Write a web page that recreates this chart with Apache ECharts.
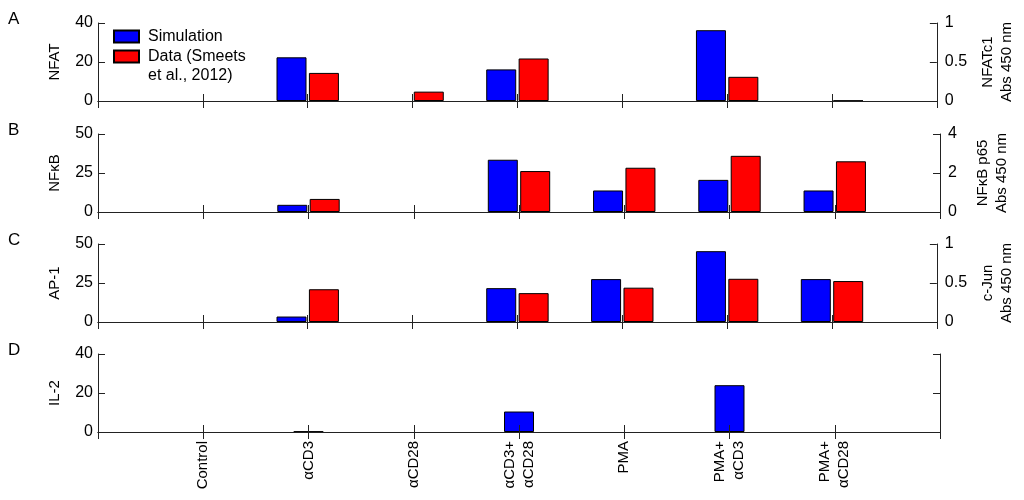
<!DOCTYPE html>
<html>
<head>
<meta charset="utf-8">
<script src="https://cdn.jsdelivr.net/npm/echarts@6/dist/echarts.min.js"></script>
<style>html,body{margin:0;padding:0;background:#fff}#c{width:1024px;height:500px}</style>
</head>
<body>
<div id="c"></div>
<script>
// ---- data ----
var categories = ['Control', 'αCD3', 'αCD28', 'αCD3+\nαCD28', 'PMA', 'PMA+\nαCD3', 'PMA+\nαCD28'];
var simName = 'Simulation';
var dataName = 'Data (Smeets et al., 2012)';
var dataLegendLabel = '\nData (Smeets\net al., 2012)';

var panelLetters = ['A', 'B', 'C', 'D'];
var leftNames = ['NFAT', 'NFκB', 'AP-1', 'IL-2'];
var rightNames = ['NFATc1\nAbs 450 nm', 'NFκB p65\nAbs 450 nm', 'c-Jun\nAbs 450 nm', null];

var leftMax = [40, 50, 50, 40];
var leftInterval = [20, 25, 25, 20];
var rightMax = [1, 4, 1, null];
var rightInterval = [0.5, 2, 0.5, null];

// simulation (left axis)
var simNFAT = [0, 22.4, 0, 16.2, 0, 36.3, 0];
var simNFkB = [0, 4.6, 0, 33.5, 13.8, 20.6, 13.8];
var simAP1  = [0, 3.5, 0, 21.7, 27.5, 45.4, 27.5];
var simIL2  = [0, 0.3, 0, 10.5, 0, 24.0, 0];
// measured data (right axis)
var dataNFATc1 = [0, 0.36, 0.12, 0.545, 0, 0.31, 0.005];
var dataP65    = [0, 0.67, 0, 2.1, 2.27, 2.88, 2.6];
var dataCJun   = [0, 0.42, 0, 0.37, 0.44, 0.554, 0.525];

var simSets = [simNFAT, simNFkB, simAP1, simIL2];
var dataSets = [dataNFATc1, dataP65, dataCJun, null];

// ---- build ----
var FONT = '"Liberation Sans", Arial, sans-serif';
var padCats = [''].concat(categories).concat(['']);
// zero-height bars are invisible in the reference: map 0 to empty
function pad(arr) {
  return ['-'].concat(arr.map(function (v) { return v === 0 ? '-' : v; })).concat(['-']);
}

var tops = [23, 134, 244, 354];
var H = 78;
var grids = [], xAxes = [], yAxes = [], series = [], graphics = [];
var lineStyle = { color: '#222', width: 1 };

for (var i = 0; i < 4; i++) {
  grids.push({ left: 98, right: 84, top: tops[i], height: H });
  xAxes.push({
    type: 'category', gridIndex: i, data: padCats, boundaryGap: false, position: 'bottom', z: 5,
    axisLine: { show: true, lineStyle: lineStyle },
    axisTick: { show: true, inside: true, length: 7, interval: 0, lineStyle: lineStyle },
    axisLabel: { show: i === 3, interval: 0, rotate: 90, margin: 9, fontSize: 15, fontFamily: FONT, color: '#000', lineHeight: 19 },
    splitLine: { show: false }
  });
  xAxes.push({
    type: 'category', gridIndex: i, data: padCats, boundaryGap: false, position: 'top', z: 5,
    axisLine: { show: true, lineStyle: lineStyle },
    axisTick: { show: true, inside: true, length: 7, interval: 0, lineStyle: lineStyle },
    axisLabel: { show: false },
    splitLine: { show: false }
  });
  yAxes.push({
    type: 'value', gridIndex: i, position: 'left', min: 0, max: leftMax[i], interval: leftInterval[i], z: 5,
    name: leftNames[i], nameLocation: 'middle', nameRotate: 90, nameGap: 36,
    nameTextStyle: { fontSize: 15, fontFamily: FONT, color: '#000' },
    axisLine: { show: true, lineStyle: lineStyle },
    axisTick: { show: true, inside: true, length: 7, lineStyle: lineStyle },
    axisLabel: { fontSize: 16, fontFamily: FONT, color: '#000', margin: 5 },
    splitLine: { show: false }
  });
  if (rightMax[i] !== null) {
    yAxes.push({
      type: 'value', gridIndex: i, position: 'right', min: 0, max: rightMax[i], interval: rightInterval[i], z: 5,
      name: rightNames[i], nameLocation: 'middle', nameRotate: 90, nameGap: 33,
      nameTextStyle: { fontSize: 15, fontFamily: FONT, color: '#000', lineHeight: 19, align: 'center' },
      axisLine: { show: true, lineStyle: lineStyle },
      axisTick: { show: true, inside: true, length: 7, lineStyle: lineStyle },
      axisLabel: { fontSize: 16, fontFamily: FONT, color: '#000', margin: 8 },
      splitLine: { show: false }
    });
  } else {
    yAxes.push({
      type: 'value', gridIndex: i, position: 'right', min: 0, max: leftMax[i], interval: leftInterval[i], z: 5,
      axisLine: { show: true, lineStyle: lineStyle },
      axisTick: { show: true, inside: true, length: 7, lineStyle: lineStyle },
      axisLabel: { show: false },
      splitLine: { show: false }
    });
  }
  series.push({
    name: simName, type: 'bar', xAxisIndex: 2 * i, yAxisIndex: 2 * i,
    data: pad(simSets[i]), barWidth: 30, barGap: '8%',
    itemStyle: { color: '#0000ff', borderColor: '#000', borderWidth: 1 }
  });
  if (dataSets[i]) {
    series.push({
      name: dataName, type: 'bar', xAxisIndex: 2 * i, yAxisIndex: 2 * i + 1,
      data: pad(dataSets[i]), barWidth: 30, barGap: '8%',
      itemStyle: { color: '#ff0000', borderColor: '#000', borderWidth: 1 }
    });
  }
  graphics.push({
    type: 'text', left: 8, top: tops[i] - 12,
    style: { text: panelLetters[i], font: '17px ' + FONT, fill: '#000' }
  });
}

var chart = echarts.init(document.getElementById('c'), null, { renderer: 'canvas' });
chart.setOption({
  animation: false,
  backgroundColor: '#fff',
  grid: grids,
  xAxis: xAxes,
  yAxis: yAxes,
  series: series,
  graphic: graphics,
  legend: {
    orient: 'vertical', left: 108, top: 22, itemGap: -18,
    itemWidth: 25, itemHeight: 12, icon: 'rect',
    formatter: function (n) { return n === dataName ? dataLegendLabel : n; },
    textStyle: { fontSize: 16, fontFamily: FONT, color: '#000', lineHeight: 19, padding: [0, 0, 0, 4] },
    data: [simName, dataName]
  }
});
</script>
</body>
</html>
